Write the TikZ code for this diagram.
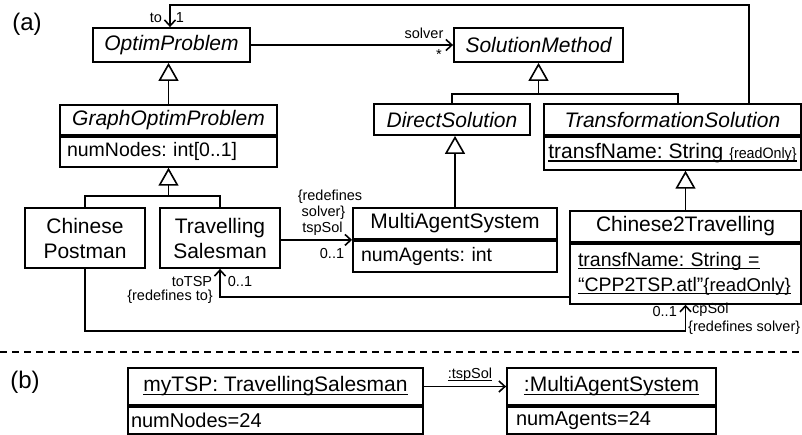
\documentclass[tikz,border=0pt]{standalone}
\usepackage{fontspec}
\setmainfont{Liberation Sans}
\usetikzlibrary{arrows.meta}

% underline drawn a little below the baseline
\newcommand{\ulx}[1]{\leavevmode\setbox0\hbox{#1}\rlap{\rule[-3pt]{\wd0}{1.3pt}}\box0}
\newcommand{\uls}[1]{\leavevmode\setbox0\hbox{#1}\rlap{\rule[-1.8pt]{\wd0}{0.9pt}}\box0}
% {readOnly} tag: size, horizontal scale
\newcommand{\ro}[2]{\scalebox{#2}[1]{\fontsize{#1}{#1}\selectfont\{readOnly\}}}

\begin{document}
\frenchspacing
\begin{tikzpicture}[x=1pt,y=-1pt,
  ln/.style={line width=1.8pt},
  box/.style={draw, ln, inner sep=0pt, align=center, font=\fontsize{21}{25}\selectfont},
  abst/.style={box, font=\fontsize{21}{25}\selectfont\itshape},
  attr/.style 2 args={draw, ln, anchor=north, inner xsep=#1, inner ysep=0pt,
    text width=#2, align=left, font=\fontsize{19.5}{25}\selectfont},
  assoc/.style={ln, -{Straight Barb[length=6pt,width=11pt,line width=1.6pt]}},
  gen/.style={ln, {Triangle[open,length=18pt,width=20pt,line width=1.6pt]}-},
  lbl/.style={inner sep=0pt, font=\fontsize{14.5}{17}\selectfont},
  part/.style={inner sep=0pt, font=\fontsize{24}{28}\selectfont},
]
\useasboundingbox (0,0) rectangle (802,434);

% ---------- (a) class diagram ----------
\node[part] (pa) at (27,24) {(a)};

\node[abst, minimum width=157pt, minimum height=34pt] (op) at (171.5,45) {OptimProblem};
\node[abst, minimum width=169pt, minimum height=34pt] (sm) at (538.5,45) {SolutionMethod};

\node[abst, minimum width=217pt, minimum height=30pt] (gop) at (168.5,120) {GraphOptimProblem};
\node[attr={7pt}{203pt}, minimum height=30pt] (gopA) at (gop.south) {numNodes: int[0..1]};

\node[abst, minimum width=156pt, minimum height=31pt] (ds) at (452,119.5) {DirectSolution};

\node[abst, minimum width=257pt, minimum height=31pt] (trs) at (672.5,119.5) {TransformationSolution};
\node[box, anchor=north, minimum width=257pt, minimum height=33pt] (trsA) at (trs.south)
  {\ulx{transfName: String \ro{15}{0.95}}};

\node[box, minimum width=120pt, minimum height=60pt] (cp) at (85,238) {Chinese\\Postman};
\node[box, minimum width=120pt, minimum height=60pt] (ts) at (220,238) {Travelling\\Salesman};

\node[box, minimum width=204pt, minimum height=31pt] (mas) at (455,223.5) {MultiAgentSystem};
\node[attr={8pt}{188pt}, minimum height=31pt] (masA) at (mas.south) {numAgents: int};

\node[box, minimum width=231pt, minimum height=31pt] (c2t) at (685.5,226.5) {Chinese2Travelling};
\node[attr={8pt}{215pt}, minimum height=60pt] (c2tA) at (c2t.south)
  {\fontsize{19.5}{22}\selectfont\ulx{transfName: String =}\\\ulx{“CPP2TSP.atl”\ro{18.5}{1}}};

% generalizations
\draw[gen] (op.south -| gop.north) -- (gop.north);
\coordinate (j1) at (168.5,196);
\draw[gen] (gopA.south -| j1) -- (j1);
\draw[ln] (cp.north) |- (j1) -| (ts.north);

\coordinate (j2) at (538.5,94);
\coordinate (j2r) at (678,94);
\draw[gen] (sm.south) -- (j2);
\draw[ln] (ds.north) |- (j2) -- (j2r) -- (trs.north -| j2r);

\draw[gen] (ds.south -| mas.north) -- (mas.north);
\draw[gen] (trsA.south -| c2t.north) -- (c2t.north);

% associations
\draw[assoc] (op.east) -- (sm.west);
\node[lbl] (l1) at (424,33) {solver};
\node[lbl] (l2) at (439,55) {*};

\coordinate (lc1) at (749,5);
\coordinate (lc2) at (170,5);
\draw[assoc] (trs.north -| lc1) -- (lc1) -- (lc2) -- (op.north -| lc2);
\node[lbl] (l3) at (156,18) {to};
\node[lbl] (l4) at (180,18) {1};

\draw[assoc] (ts.east |- mas.south) -- (mas.south west);
\node[lbl] (l5) at (330,197) {\{redefines};
\node[lbl] (l6) at (323.5,213) {solver\}};
\node[lbl] (l7) at (322.5,229) {tspSol};
\node[lbl] (l8) at (332,254) {0..1};

\coordinate (b1) at (220,297);
\draw[assoc] (c2tA.west |- b1) -- (b1) -- (ts.south);
\node[lbl] (l9) at (192,282) {toTSP};
\node[lbl] (l10) at (170,297) {\{redefines to\}};
\node[lbl] (l11) at (240,282) {0..1};

\coordinate (c1) at (85,331);
\coordinate (c2) at (685.5,331);
\draw[assoc] (cp.south) -- (c1) -- (c2) -- (c2tA.south);
\node[lbl, anchor=east] (l12) at (677,312) {0..1};
\node[lbl, anchor=west] (l13) at (692,310) {cpSol};
\node[lbl, anchor=west] (l14) at (688,328) {\{redefines solver\}};

% separator
\coordinate (s1) at (0,352);
\coordinate (s2) at (802,352);
\draw[line width=1.1pt, dash pattern=on 7pt off 5pt] (s1) -- (s2);

% ---------- (b) object diagram ----------
\node[part] (pb) at (25,382) {(b)};

\node[box, minimum width=295pt, minimum height=37pt] (tsp) at (275.5,386.5) {\ulx{myTSP: TravellingSalesman}};
\node[attr={3pt}{289pt}, minimum height=27pt] (tspA) at (tsp.south) {\fontsize{20}{24}\selectfont numNodes=24};

\node[box, minimum width=209pt, minimum height=37pt] (omas) at (611.5,386.5) {\ulx{:MultiAgentSystem}};
\node[attr={9pt}{191pt}, minimum height=27pt] (omasA) at (omas.south) {\fontsize{20}{24}\selectfont numAgents=24};

\draw[assoc] (tsp.east) -- (omas.west);
\node[lbl] (l15) at (470,375) {\uls{:tspSol}};

\end{tikzpicture}
\end{document}
